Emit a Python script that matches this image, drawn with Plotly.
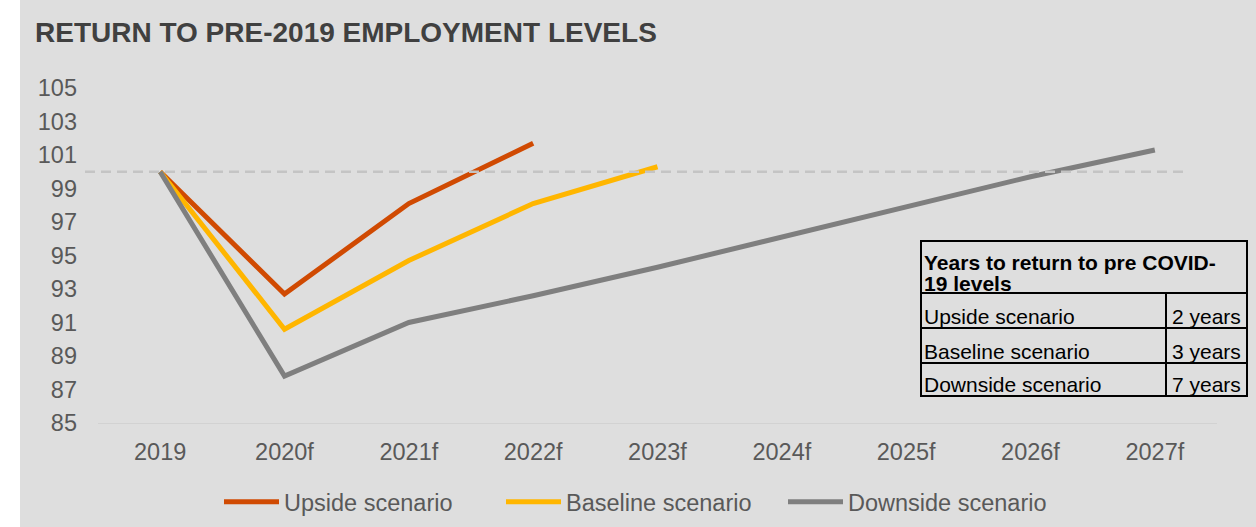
import plotly.graph_objects as go

# Employment index (2019 = 100) under three recovery scenarios
years = ["2019", "2020f", "2021f", "2022f", "2023f", "2024f", "2025f", "2026f", "2027f"]
upside = [100, 92.7, 98.1, 101.7]
baseline = [100, 90.6, 94.7, 98.1, 100.3]
downside = [100, 87.8, 91.0, 92.6, 94.3, 96.1, 97.9, 99.7, 101.3]
pre_covid_level = 100

series_names = ["Upside scenario", "Baseline scenario", "Downside scenario"]
series_colors = ["#D04A02", "#FFB600", "#7F7F7F"]

y_ticks = list(range(85, 106, 2))

# Years-to-recovery summary table
table_title_lines = ["Years to return to pre COVID-", "19 levels"]
table_labels = ["Upside scenario", "Baseline scenario", "Downside scenario"]
table_values = ["2 years", "3 years", "7 years"]

W, H = 1256, 527
ML, MR, MT, MB = 98, 39, 88, 104
PW, PH = W - ML - MR, H - MT - MB


def px(xp):
    """Pixel x -> paper x."""
    return (xp - ML) / PW


def py(yp):
    """Pixel y -> paper y."""
    return (H - MB - yp) / PH


FONT = "Liberation Sans, Arial, sans-serif"
BG = "#DEDEDE"

fig = go.Figure()
for name, vals, col in zip(series_names, [upside, baseline, downside], series_colors):
    fig.add_trace(go.Scatter(
        x=years[:len(vals)], y=vals, name=name, mode="lines",
        line=dict(color=col, width=5),
    ))

shapes = []
# white strip on the far left
shapes.append(dict(type="rect", xref="paper", yref="paper",
                   x0=px(-5), x1=px(20), y0=py(H + 5), y1=py(-5),
                   fillcolor="white", line=dict(width=0), layer="below"))
# pre-COVID reference level
shapes.append(dict(type="line", xref="paper", yref="y",
                   x0=px(85), x1=px(1188), y0=pre_covid_level, y1=pre_covid_level,
                   line=dict(color="#C4C4C4", width=2.5, dash="10px,6px"), layer="above"))

# table frame
tl, tr, tt, tb = 921, 1247, 241, 396
row_lines = [293, 328, 363]
divider_x = 1166
lw = 2
shapes.append(dict(type="rect", xref="paper", yref="paper",
                   x0=px(tl), x1=px(tr), y0=py(tb), y1=py(tt),
                   line=dict(color="black", width=lw)))
for ry in row_lines:
    shapes.append(dict(type="line", xref="paper", yref="paper",
                       x0=px(tl), x1=px(tr), y0=py(ry), y1=py(ry),
                       line=dict(color="black", width=lw)))
shapes.append(dict(type="line", xref="paper", yref="paper",
                   x0=px(divider_x), x1=px(divider_x), y0=py(row_lines[0]), y1=py(tb),
                   line=dict(color="black", width=lw)))

annotations = []
for line_text, cy in zip(table_title_lines, [262, 283]):
    annotations.append(dict(xref="paper", yref="paper", x=px(tl + 1), y=py(cy),
                            text="<b>" + line_text + "</b>", showarrow=False,
                            xanchor="left", yanchor="middle",
                            font=dict(family=FONT, size=21, color="black")))
row_text_y = [316, 351, 384]
for lab, val, cy in zip(table_labels, table_values, row_text_y):
    annotations.append(dict(xref="paper", yref="paper", x=px(tl + 1), y=py(cy),
                            text=lab, showarrow=False, xanchor="left", yanchor="middle",
                            font=dict(family=FONT, size=21, color="black")))
    annotations.append(dict(xref="paper", yref="paper", x=px(tr - 4), y=py(cy),
                            text=val, showarrow=False, xanchor="right", yanchor="middle",
                            font=dict(family=FONT, size=21, color="black")))

fig.update_layout(
    width=W, height=H,
    margin=dict(l=ML, r=MR, t=MT, b=MB, pad=0, autoexpand=False),
    paper_bgcolor=BG, plot_bgcolor=BG,
    title=dict(text="RETURN TO PRE-2019 EMPLOYMENT LEVELS",
               xref="container", yref="container", x=35 / W, y=1 - 32 / H,
               xanchor="left", yanchor="middle",
               font=dict(family=FONT, size=28, color="#404040", weight="bold")),
    xaxis=dict(type="category", categoryorder="array", categoryarray=years,
               range=[-0.5, len(years) - 0.5],
               showgrid=False, zeroline=False, showline=True, linecolor="#D2D2D2", linewidth=1,
               ticks="", ticklabelstandoff=8,
               tickfont=dict(family=FONT, size=23.5, color="#595959")),
    yaxis=dict(range=[85, 105], tickvals=y_ticks, showgrid=False, zeroline=False,
               showline=False, ticks="", ticklabelstandoff=20,
               tickfont=dict(family=FONT, size=23.5, color="#595959")),
    showlegend=True,
    legend=dict(orientation="h", xref="container", yref="container",
                x=219 / W, xanchor="left", y=1 - 502 / H, yanchor="middle",
                bgcolor="rgba(0,0,0,0)", itemwidth=55,
                entrywidth=212, entrywidthmode="pixels",
                font=dict(family=FONT, size=23.5, color="#595959")),
    shapes=shapes, annotations=annotations,
)

fig.write_html("out.html")
